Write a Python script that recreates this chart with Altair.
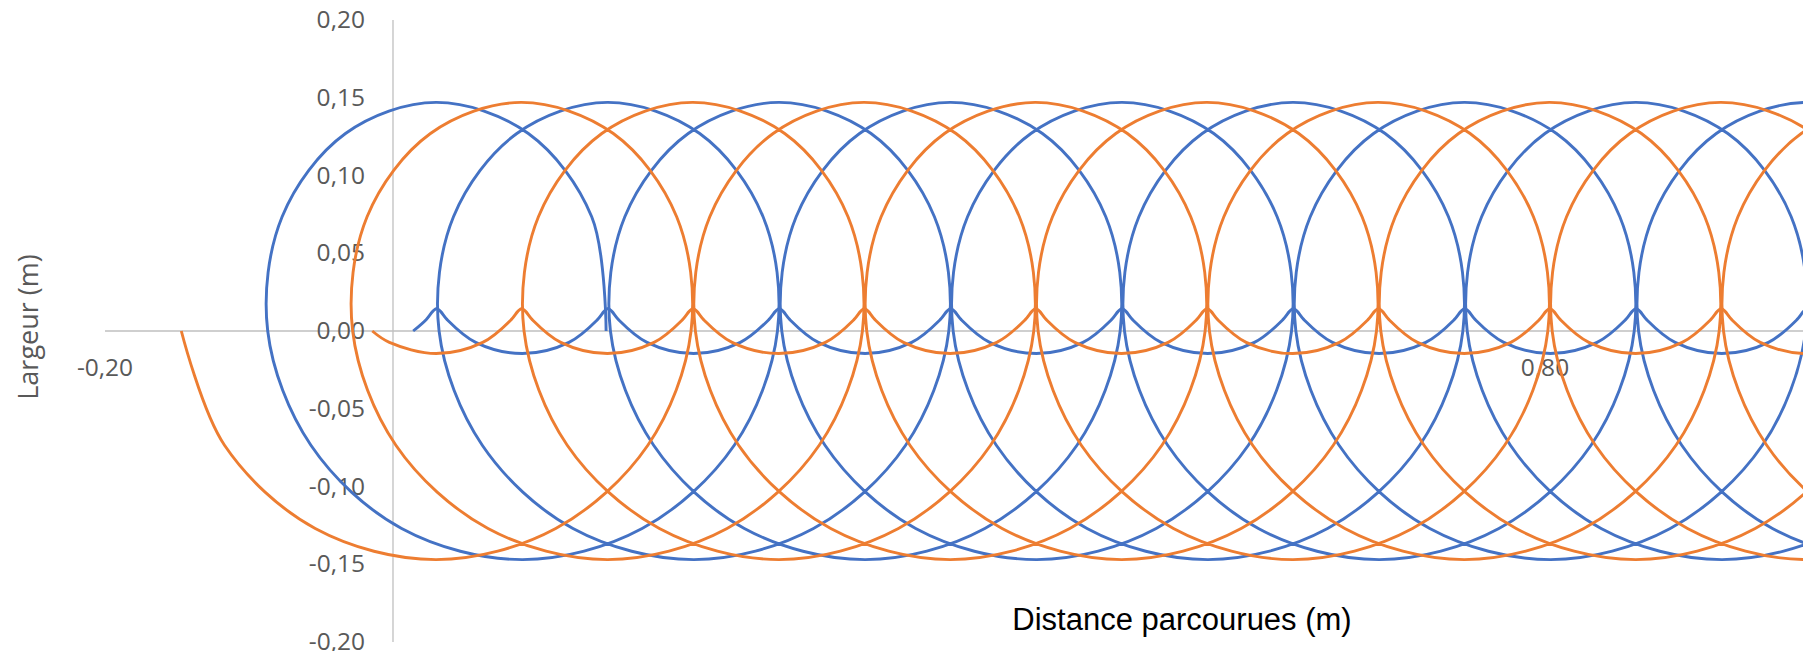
import altair as alt
import pandas as pd

# ---------------- data ----------------
# Blue series, large loops (x = distance, y = width)
blue_big_x = [
    0.148, 0.138, 0.094,
    0.030, -0.033, -0.077, -0.087, -0.057, 0.006, 0.090, 0.173, 0.237, 0.267, 0.257, 0.213,
    0.149, 0.086, 0.042, 0.032, 0.062, 0.125, 0.209, 0.292, 0.356, 0.386, 0.376, 0.332,
    0.268, 0.205, 0.161, 0.151, 0.181, 0.244, 0.328, 0.411, 0.475, 0.505, 0.495, 0.451,
    0.387, 0.324, 0.280, 0.270, 0.300, 0.363, 0.447, 0.530, 0.594, 0.624, 0.614, 0.570,
    0.506, 0.443, 0.399, 0.389, 0.419, 0.482, 0.566, 0.649, 0.713, 0.743, 0.733, 0.689,
    0.625, 0.562, 0.518, 0.508, 0.538, 0.601, 0.685, 0.768, 0.832, 0.862, 0.852, 0.808,
    0.744, 0.681, 0.637, 0.627, 0.657, 0.720, 0.804, 0.887, 0.951, 0.981, 0.971, 0.927,
    0.863, 0.800, 0.756, 0.746, 0.776, 0.839, 0.923, 1.006, 1.070, 1.100, 1.090, 1.046,
    0.982, 0.919, 0.875, 0.865, 0.895, 0.958, 1.042, 1.125, 1.189,
]
blue_big_y = [
    0.0, 0.0735, 0.127,
    0.147, 0.127, 0.0735, 0.0, -0.0735, -0.127, -0.147, -0.127, -0.0735, 0.0, 0.0735, 0.127,
    0.147, 0.127, 0.0735, 0.0, -0.0735, -0.127, -0.147, -0.127, -0.0735, 0.0, 0.0735, 0.127,
    0.147, 0.127, 0.0735, 0.0, -0.0735, -0.127, -0.147, -0.127, -0.0735, 0.0, 0.0735, 0.127,
    0.147, 0.127, 0.0735, 0.0, -0.0735, -0.127, -0.147, -0.127, -0.0735, 0.0, 0.0735, 0.127,
    0.147, 0.127, 0.0735, 0.0, -0.0735, -0.127, -0.147, -0.127, -0.0735, 0.0, 0.0735, 0.127,
    0.147, 0.127, 0.0735, 0.0, -0.0735, -0.127, -0.147, -0.127, -0.0735, 0.0, 0.0735, 0.127,
    0.147, 0.127, 0.0735, 0.0, -0.0735, -0.127, -0.147, -0.127, -0.0735, 0.0, 0.0735, 0.127,
    0.147, 0.127, 0.0735, 0.0, -0.0735, -0.127, -0.147, -0.127, -0.0735, 0.0, 0.0735, 0.127,
    0.147, 0.127, 0.0735, 0.0, -0.0735, -0.127, -0.147, -0.127, -0.0735,
]

# Blue series, small arcs near the axis
blue_small_x = [
    0.0140, 0.0230, 0.0276,
    0.0303, 0.0330, 0.0376, 0.0574, 0.0898, 0.1222, 0.1420, 0.1466,
    0.1493, 0.1520, 0.1566, 0.1764, 0.2088, 0.2412, 0.2610, 0.2656,
    0.2683, 0.2710, 0.2756, 0.2954, 0.3278, 0.3602, 0.3800, 0.3846,
    0.3873, 0.3900, 0.3946, 0.4144, 0.4468, 0.4792, 0.4990, 0.5036,
    0.5063, 0.5090, 0.5136, 0.5334, 0.5658, 0.5982, 0.6180, 0.6226,
    0.6253, 0.6280, 0.6326, 0.6524, 0.6848, 0.7172, 0.7370, 0.7416,
    0.7443, 0.7470, 0.7516, 0.7714, 0.8038, 0.8362, 0.8560, 0.8606,
    0.8633, 0.8660, 0.8706, 0.8904, 0.9228, 0.9552, 0.9750, 0.9796,
    0.9823, 0.9850, 0.9896, 1.0094,
]
blue_small_y = [
    0.0, 0.0073, 0.0126,
    0.0145, 0.0126, 0.0073, -0.0073, -0.0145, -0.0073, 0.0073, 0.0126,
    0.0145, 0.0126, 0.0073, -0.0073, -0.0145, -0.0073, 0.0073, 0.0126,
    0.0145, 0.0126, 0.0073, -0.0073, -0.0145, -0.0073, 0.0073, 0.0126,
    0.0145, 0.0126, 0.0073, -0.0073, -0.0145, -0.0073, 0.0073, 0.0126,
    0.0145, 0.0126, 0.0073, -0.0073, -0.0145, -0.0073, 0.0073, 0.0126,
    0.0145, 0.0126, 0.0073, -0.0073, -0.0145, -0.0073, 0.0073, 0.0126,
    0.0145, 0.0126, 0.0073, -0.0073, -0.0145, -0.0073, 0.0073, 0.0126,
    0.0145, 0.0126, 0.0073, -0.0073, -0.0145, -0.0073, 0.0073, 0.0126,
    0.0145, 0.0126, 0.0073, -0.0073,
]

# Orange series, large loops
orange_big_x = [
    -0.147, -0.117, -0.054, 0.030, 0.113, 0.177, 0.207, 0.197, 0.153,
    0.089, 0.026, -0.018, -0.028, 0.002, 0.066, 0.149, 0.232, 0.296, 0.326, 0.316, 0.272,
    0.208, 0.145, 0.101, 0.091, 0.121, 0.185, 0.268, 0.351, 0.415, 0.445, 0.435, 0.391,
    0.327, 0.264, 0.220, 0.210, 0.240, 0.304, 0.387, 0.470, 0.534, 0.564, 0.554, 0.510,
    0.446, 0.383, 0.339, 0.329, 0.359, 0.423, 0.506, 0.589, 0.653, 0.683, 0.673, 0.629,
    0.565, 0.502, 0.458, 0.448, 0.478, 0.542, 0.625, 0.708, 0.772, 0.802, 0.792, 0.748,
    0.684, 0.621, 0.577, 0.567, 0.597, 0.661, 0.744, 0.827, 0.891, 0.921, 0.911, 0.867,
    0.803, 0.740, 0.696, 0.686, 0.716, 0.780, 0.863, 0.946, 1.010, 1.040, 1.030, 0.986,
    0.922, 0.859, 0.815, 0.805, 0.835, 0.899, 0.982, 1.065, 1.129, 1.159, 1.149, 1.105,
    1.041, 0.978, 0.934, 0.924, 0.954, 1.018, 1.101, 1.184, 1.248,
]
orange_big_y = [
    0.0, -0.0735, -0.127, -0.147, -0.127, -0.0735, 0.0, 0.0735, 0.127,
    0.147, 0.127, 0.0735, 0.0, -0.0735, -0.127, -0.147, -0.127, -0.0735, 0.0, 0.0735, 0.127,
    0.147, 0.127, 0.0735, 0.0, -0.0735, -0.127, -0.147, -0.127, -0.0735, 0.0, 0.0735, 0.127,
    0.147, 0.127, 0.0735, 0.0, -0.0735, -0.127, -0.147, -0.127, -0.0735, 0.0, 0.0735, 0.127,
    0.147, 0.127, 0.0735, 0.0, -0.0735, -0.127, -0.147, -0.127, -0.0735, 0.0, 0.0735, 0.127,
    0.147, 0.127, 0.0735, 0.0, -0.0735, -0.127, -0.147, -0.127, -0.0735, 0.0, 0.0735, 0.127,
    0.147, 0.127, 0.0735, 0.0, -0.0735, -0.127, -0.147, -0.127, -0.0735, 0.0, 0.0735, 0.127,
    0.147, 0.127, 0.0735, 0.0, -0.0735, -0.127, -0.147, -0.127, -0.0735, 0.0, 0.0735, 0.127,
    0.147, 0.127, 0.0735, 0.0, -0.0735, -0.127, -0.147, -0.127, -0.0735, 0.0, 0.0735, 0.127,
    0.147, 0.127, 0.0735, 0.0, -0.0735, -0.127, -0.147, -0.127, -0.0735,
]

# Orange series, small arcs near the axis
orange_small_x = [
    -0.0144, -0.0025, 0.0299, 0.0623, 0.0821, 0.0867,
    0.0894, 0.0921, 0.0967, 0.1165, 0.1489, 0.1813, 0.2011, 0.2057,
    0.2084, 0.2111, 0.2157, 0.2355, 0.2679, 0.3003, 0.3201, 0.3247,
    0.3274, 0.3301, 0.3347, 0.3545, 0.3869, 0.4193, 0.4391, 0.4437,
    0.4464, 0.4491, 0.4537, 0.4735, 0.5059, 0.5383, 0.5581, 0.5627,
    0.5654, 0.5681, 0.5727, 0.5925, 0.6249, 0.6573, 0.6771, 0.6817,
    0.6844, 0.6871, 0.6917, 0.7115, 0.7439, 0.7763, 0.7961, 0.8007,
    0.8034, 0.8061, 0.8107, 0.8305, 0.8629, 0.8953, 0.9151, 0.9197,
    0.9224, 0.9251, 0.9297, 0.9495, 0.9819, 1.0143,
]
orange_small_y = [
    0.0, -0.0073, -0.0145, -0.0073, 0.0073, 0.0126,
    0.0145, 0.0126, 0.0073, -0.0073, -0.0145, -0.0073, 0.0073, 0.0126,
    0.0145, 0.0126, 0.0073, -0.0073, -0.0145, -0.0073, 0.0073, 0.0126,
    0.0145, 0.0126, 0.0073, -0.0073, -0.0145, -0.0073, 0.0073, 0.0126,
    0.0145, 0.0126, 0.0073, -0.0073, -0.0145, -0.0073, 0.0073, 0.0126,
    0.0145, 0.0126, 0.0073, -0.0073, -0.0145, -0.0073, 0.0073, 0.0126,
    0.0145, 0.0126, 0.0073, -0.0073, -0.0145, -0.0073, 0.0073, 0.0126,
    0.0145, 0.0126, 0.0073, -0.0073, -0.0145, -0.0073, 0.0073, 0.0126,
    0.0145, 0.0126, 0.0073, -0.0073, -0.0145, -0.0073,
]

# Axis ticks and texts
y_tick_values = [-0.20, -0.15, -0.10, -0.05, 0.00, 0.05, 0.10, 0.15, 0.20]
y_tick_labels = ["-0,20", "-0,15", "-0,10", "-0,05", "0,00", "0,05", "0,10", "0,15", "0,20"]
x_tick_values = [-0.20, 0.80]
x_tick_labels = ["-0,20", "0,80"]
x_title = "Distance parcourues (m)"
y_title = "Largeur (m)"

X_MIN, X_MAX = -0.2, 0.9792
Y_MIN, Y_MAX = -0.2, 0.2

BLUE = "#4472C4"
ORANGE = "#ED7D31"
AXIS_GRAY = "#BFBFBF"
LABEL_GRAY = "#595959"

W, H = 1698, 622

# ---------------- build tables ----------------
def path_table(xs, ys, part):
    return pd.DataFrame({"x": xs, "y": ys, "i": list(range(len(xs))), "part": part})

blue_df = pd.concat([path_table(blue_big_x, blue_big_y, "big"),
                     path_table(blue_small_x, blue_small_y, "small")])
orange_df = pd.concat([path_table(orange_big_x, orange_big_y, "big"),
                       path_table(orange_small_x, orange_small_y, "small")])

xs = alt.Scale(domain=[X_MIN, X_MAX], nice=False, zero=False)
ys = alt.Scale(domain=[Y_MIN, Y_MAX], nice=False, zero=False)


def line_layer(df, color):
    return alt.Chart(df).mark_line(
        interpolate="catmull-rom", color=color, strokeWidth=2.9, clip=True
    ).encode(
        x=alt.X("x:Q", scale=xs, axis=None),
        y=alt.Y("y:Q", scale=ys, axis=None),
        detail="part:N",
        order="i:Q",
    )


axis_lines = pd.DataFrame({
    "x": [X_MIN, 0.0], "x2": [X_MAX, 0.0],
    "y": [0.0, Y_MIN], "y2": [0.0, Y_MAX],
})
axes = alt.Chart(axis_lines).mark_rule(color=AXIS_GRAY, strokeWidth=1.3).encode(
    x=alt.X("x:Q", scale=xs, axis=None), x2="x2:Q",
    y=alt.Y("y:Q", scale=ys, axis=None), y2="y2:Q",
)

ylabels = alt.Chart(pd.DataFrame({"v": y_tick_values, "lab": y_tick_labels})).transform_calculate(
    c="0"
).mark_text(
    align="right", baseline="middle", dx=-28, dy=1, font="Open Sans", fontSize=24.5, color=LABEL_GRAY
).encode(
    x=alt.X("c:Q", scale=xs, axis=None),
    y=alt.Y("v:Q", scale=ys, axis=None),
    text="lab:N",
)

xlabels = alt.Chart(pd.DataFrame({"v": x_tick_values, "lab": x_tick_labels})).transform_calculate(
    c="0"
).mark_text(
    align="center", baseline="middle", dy=38, font="Open Sans", fontSize=24.5, color=LABEL_GRAY
).encode(
    x=alt.X("v:Q", scale=xs, axis=None),
    y=alt.Y("c:Q", scale=ys, axis=None),
    text="lab:N",
)

xtitle = alt.Chart(pd.DataFrame({"t": [x_title]})).mark_text(
    align="center", baseline="alphabetic", font="Liberation Sans", fontSize=31, color="#000000"
).encode(x=alt.value(1077), y=alt.value(610), text="t:N")

ytitle = alt.Chart(pd.DataFrame({"t": [y_title]})).mark_text(
    align="center", baseline="middle", angle=270, font="Open Sans", fontSize=27, color=LABEL_GRAY
).encode(x=alt.value(-75), y=alt.value(307), text="t:N")

chart = alt.layer(
    axes, ylabels, xlabels,
    line_layer(blue_df, BLUE), line_layer(orange_df, ORANGE),
    xtitle, ytitle,
).properties(
    width=W, height=H,
    padding={"left": 97, "top": 12, "right": 0, "bottom": 9},
    autosize=alt.AutoSizeParams(type="none"),
    background="white",
).configure_view(stroke=None)

chart.save("out.html", embed_options={"renderer": "svg", "actions": False})
